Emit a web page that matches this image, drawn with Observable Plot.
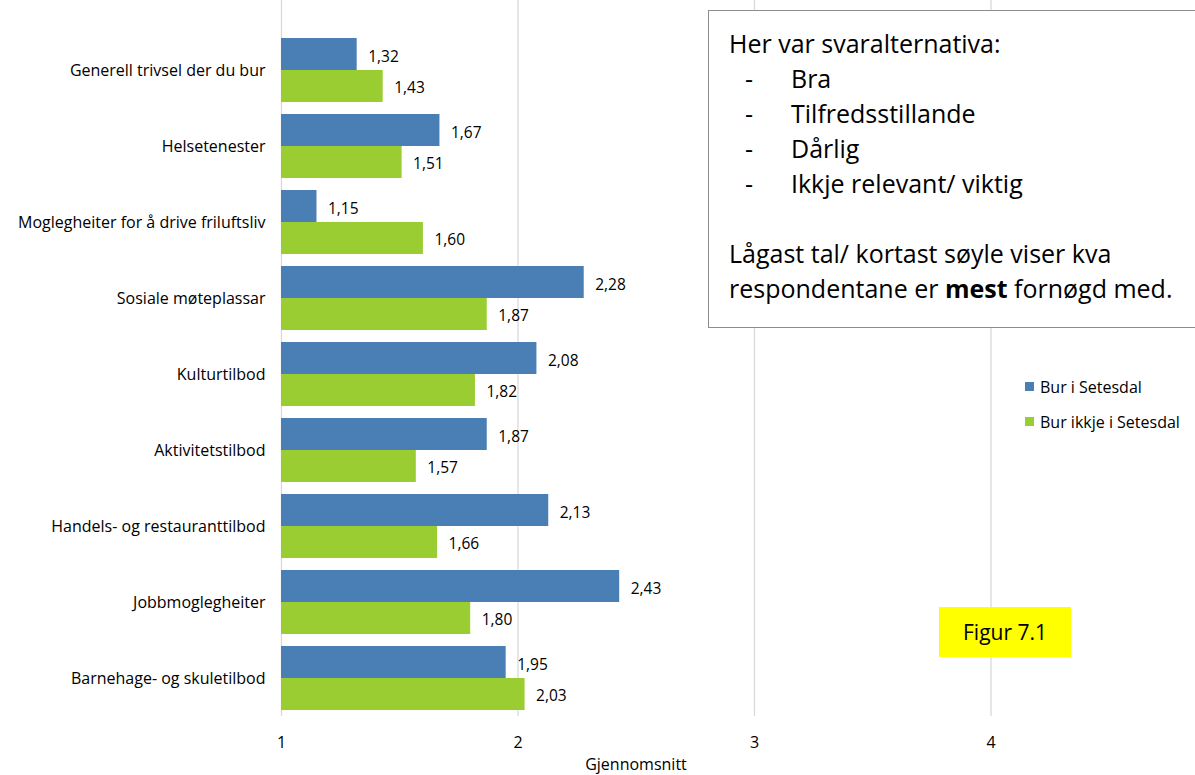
<!DOCTYPE html>
<html>
<head>
<meta charset="utf-8">
<script src="https://cdn.jsdelivr.net/npm/d3@7"></script>
<script src="https://cdn.jsdelivr.net/npm/@observablehq/plot@0.6"></script>
<style>
  html, body { margin: 0; padding: 0; background: #fff; overflow: hidden; }
  #wrap { position: relative; width: 1195px; height: 775px; overflow: hidden; font-family: "Open Sans", Lato, sans-serif; color: #000; }
  #chart { position: absolute; left: 0; top: 0; }
  #chart svg { max-width: none !important; }
  .note { position: absolute; left: 708px; top: 10px; width: 500px; height: 318px; box-sizing: border-box;
          border: 1px solid #8c8c8c; background: #fff; font-size: 25px; line-height: 35px; padding: 15px 0 0 20px; }
  .note .li { display: flex; }
  .note .li span.d { width: 62px; padding-left: 16px; box-sizing: border-box; }
  .legend { position: absolute; left: 1025px; top: 369px; font-size: 16px; }
  .legend .row { display: flex; align-items: center; height: 35px; }
  .legend .sw { width: 9px; height: 9px; margin-right: 6px; }
  .fig { position: absolute; left: 939px; top: 607px; width: 132px; height: 50px; background: #ffff00;
         font-size: 21px; display: flex; align-items: center; justify-content: center; }
  .xlab { position: absolute; left: 636px; top: 754px; transform: translateX(-50%); font-size: 16px; line-height: 20px; }
</style>
</head>
<body>
<div id="wrap">
  <div id="chart"></div>
  <div class="note">
    <div>Her var svaralternativa:</div>
    <div class="li"><span class="d">-</span><span>Bra</span></div>
    <div class="li"><span class="d">-</span><span>Tilfredsstillande</span></div>
    <div class="li"><span class="d">-</span><span>Dårlig</span></div>
    <div class="li"><span class="d">-</span><span>Ikkje relevant/ viktig</span></div>
    <div>&nbsp;</div>
    <div>Lågast tal/ kortast søyle viser kva</div>
    <div>respondentane er <b>mest</b> fornøgd med.</div>
  </div>
  <div class="legend" id="legend"></div>
  <div class="fig">Figur 7.1</div>
  <div class="xlab">Gjennomsnitt</div>
</div>
<script>
const categories = [
  "Generell trivsel der du bur",
  "Helsetenester",
  "Moglegheiter for å drive friluftsliv",
  "Sosiale møteplassar",
  "Kulturtilbod",
  "Aktivitetstilbod",
  "Handels- og restauranttilbod",
  "Jobbmoglegheiter",
  "Barnehage- og skuletilbod"
];
const seriesNames = ["Bur i Setesdal", "Bur ikkje i Setesdal"];
const seriesColors = ["#4a7fb5", "#9acd32"];
const burISetesdal = [1.32, 1.67, 1.15, 2.28, 2.08, 1.87, 2.13, 2.43, 1.95];
const burIkkjeISetesdal = [1.43, 1.51, 1.60, 1.87, 1.82, 1.57, 1.66, 1.80, 2.03];
const xTicks = [1, 2, 3, 4];

const blue = categories.map((c, i) => ({category: c, value: burISetesdal[i], series: seriesNames[0]}));
const green = categories.map((c, i) => ({category: c, value: burIkkjeISetesdal[i], series: seriesNames[1]}));
const fmt = v => v.toFixed(2).replace(".", ",");

const plot = Plot.plot({
  width: 1227,
  height: 775,
  marginLeft: 281,
  marginRight: 0,
  marginTop: 0,
  marginBottom: 59,
  style: {fontFamily: "'Open Sans', Lato, sans-serif", fontSize: "16px", color: "#000", background: "transparent", maxWidth: "none"},
  x: {domain: [1, 5], ticks: xTicks, tickFormat: d => String(d), tickSize: 0, tickPadding: 20, label: null},
  y: {domain: categories, paddingInner: 0.159, paddingOuter: 0.284, align: 0.86, tickSize: 0, tickPadding: 16, label: null},
  color: {domain: seriesNames, range: seriesColors},
  marks: [
    Plot.gridX(xTicks, {stroke: "#d9d9d9", strokeOpacity: 1, strokeWidth: 1.3}),
    Plot.barX(blue, {x1: 1, x2: "value", y: "category", fill: "series", insetBottom: 32}),
    Plot.barX(green, {x1: 1, x2: "value", y: "category", fill: "series", insetTop: 32}),
    Plot.text(blue, {x: "value", y: "category", text: d => fmt(d.value), textAnchor: "start", dx: 11, dy: -13, fontSize: 15.5}),
    Plot.text(green, {x: "value", y: "category", text: d => fmt(d.value), textAnchor: "start", dx: 11, dy: 18, fontSize: 15.5})
  ]
});
document.getElementById("chart").appendChild(plot);

const legend = document.getElementById("legend");
seriesNames.forEach((s, i) => {
  const row = document.createElement("div");
  row.className = "row";
  row.innerHTML = `<span class="sw" style="background:${seriesColors[i]}"></span><span>${s}</span>`;
  legend.appendChild(row);
});
</script>
</body>
</html>
